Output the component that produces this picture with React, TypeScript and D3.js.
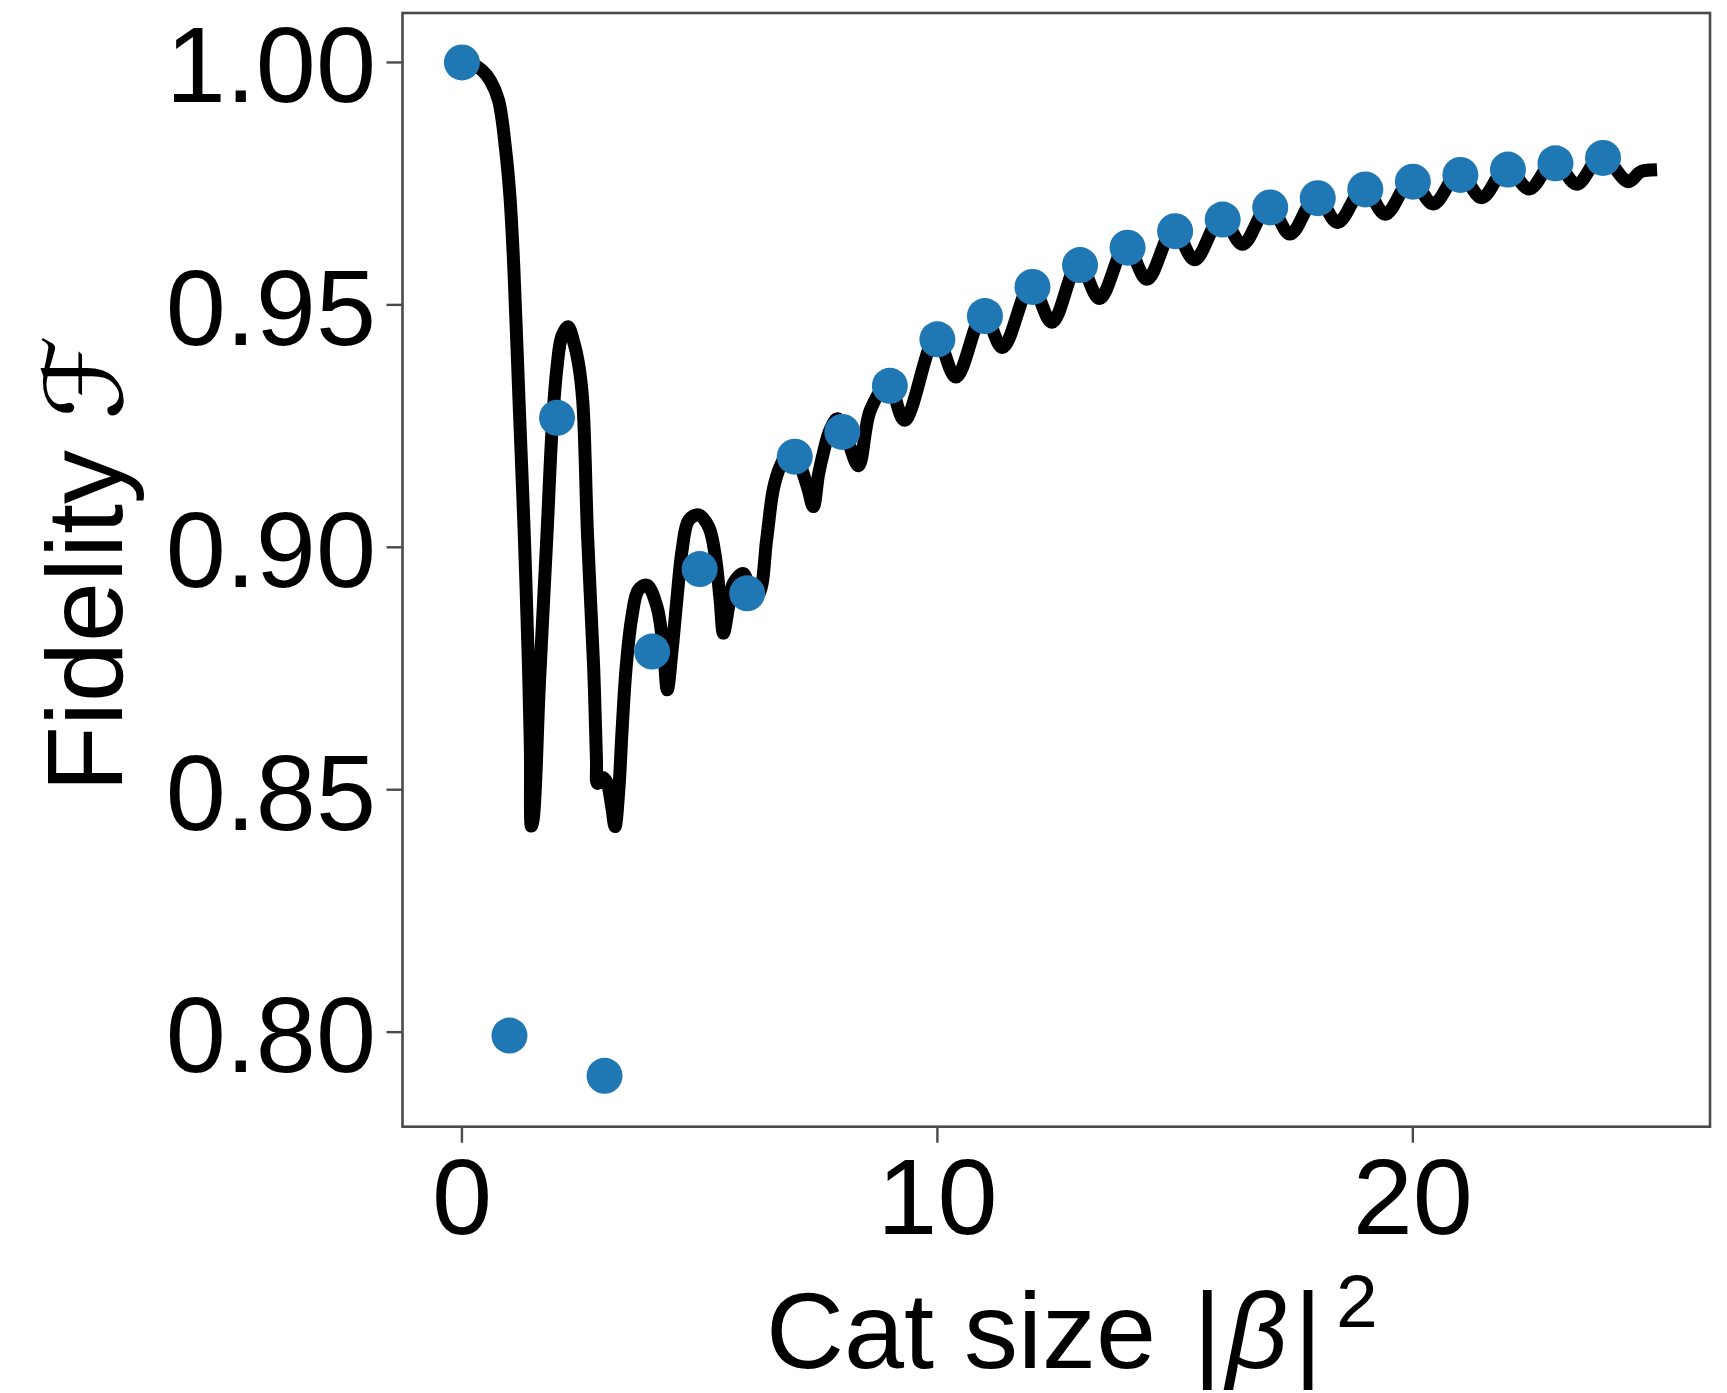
import React from "react";
import * as d3 from "d3";

// ---- data ----
const dotX = [0, 1, 2, 3, 4, 5, 6, 7, 8, 9, 10, 11, 12, 13, 14, 15, 16, 17, 18, 19, 20, 21, 22, 23, 24];
const dotY = [
  1.0, 0.7993, 0.9267, 0.791, 0.8785, 0.8955, 0.8905, 0.9187, 0.9238, 0.9333, 0.9429, 0.9477, 0.9537,
  0.9582, 0.9618, 0.9652, 0.9676, 0.9701, 0.972, 0.9738, 0.9754, 0.9768, 0.9779, 0.9792, 0.9803,
];

const lineX = [
  0.0, 0.2, 0.42, 0.6, 0.77, 0.92, 1.01, 1.09, 1.2, 1.31, 1.4, 1.44, 1.46, 1.5, 1.63, 1.79, 1.9, 2.0, 2.1,
  2.23, 2.36, 2.45, 2.54, 2.64, 2.77, 2.83, 2.85, 2.96, 3.05, 3.15, 3.22, 3.3, 3.365, 3.455, 3.575, 3.71,
  3.89, 4.1, 4.24, 4.32, 4.42, 4.52, 4.63, 4.77, 4.976, 5.19, 5.33, 5.43, 5.5, 5.61, 5.71, 5.92, 6.1, 6.25,
  6.41, 6.55, 6.69, 6.85, 6.98, 7.15, 7.28, 7.39, 7.5, 7.6, 7.74, 7.9, 8.1, 8.34, 8.59, 8.97, 9.31, 9.97, 10.39,
  10.97, 11.37, 11.97, 12.41, 12.97, 13.41, 13.97, 14.41, 14.97, 15.41, 15.97, 16.42, 16.97, 17.42, 17.97,
  18.42, 18.97, 19.42, 19.97, 20.43, 20.97, 21.45, 21.97, 22.45, 22.97, 23.45, 23.97, 24.53, 24.78, 25.0,
];
const lineY = [
  1.0, 0.9997, 0.9984, 0.9962, 0.9922, 0.9819, 0.9723, 0.958, 0.9304, 0.9029, 0.8754, 0.858, 0.8425, 0.844,
  0.872, 0.9029, 0.925, 0.9372, 0.9435, 0.9455, 0.942, 0.938, 0.9304, 0.9029, 0.8754, 0.856, 0.8513, 0.8525,
  0.8515, 0.8465, 0.8424, 0.85, 0.8617, 0.8754, 0.8857, 0.8912, 0.8922, 0.8878, 0.8788, 0.8706, 0.8788,
  0.8891, 0.8994, 0.9056, 0.9067, 0.9042, 0.8981, 0.8891, 0.8823, 0.8878, 0.8926, 0.8946, 0.8895, 0.8905,
  0.9017, 0.912, 0.9166, 0.9195, 0.92, 0.916, 0.912, 0.9084, 0.915, 0.9194, 0.9242, 0.9265, 0.9225, 0.9168,
  0.9283, 0.9338, 0.9262, 0.9433, 0.9351, 0.9482, 0.9412, 0.9541, 0.9464, 0.9586, 0.9513, 0.9622, 0.9553, 0.9656,
  0.9593, 0.968, 0.9625, 0.9705, 0.9646, 0.9724, 0.967, 0.9742, 0.9687, 0.9758, 0.9708, 0.9772, 0.9721,
  0.9783, 0.9739, 0.9796, 0.9749, 0.9807, 0.9754, 0.9774, 0.9778,
];

const xTicks = [0, 10, 20];
const yTicks = [0.8, 0.85, 0.9, 0.95, 1.0];
const xDomain = [-1.25, 26.25];
const yDomain = [0.7805, 1.0102];

// ---- layout ----
const W = 1727;
const H = 1393;
const left = 402.5;
const right = 1710;
const top = 13;
const bottom = 1126.7;
const FONT = "'Liberation Sans', Arial, Helvetica, sans-serif";
const FS = 108;
const SPINE = "#4a4a4a";

export default function App() {
  const x = d3.scaleLinear().domain(xDomain).range([left, right]);
  const y = d3.scaleLinear().domain(yDomain).range([bottom, top]);

  const linePts = lineX.map((v, i) => [v, lineY[i]] as [number, number]);
  const path = d3
    .line<[number, number]>()
    .x((d) => x(d[0]))
    .y((d) => y(d[1]))
    .curve(d3.curveCatmullRom.alpha(0.5))(linePts);

  return (
    <div style={{ position: "absolute", left: 0, top: 0, background: "#fff" }}>
      <svg width={W} height={H} viewBox={`0 0 ${W} ${H}`} style={{ display: "block" }}>
        <rect x={0} y={0} width={W} height={H} fill="#fff" />
        <path
          d={path || ""}
          fill="none"
          stroke="#000"
          strokeWidth={13}
          strokeLinejoin="round"
          strokeLinecap="square"
        />
        {dotX.map((v, i) => (
          <circle key={i} cx={x(v)} cy={y(dotY[i])} r={18} fill="#1f77b4" />
        ))}
        {/* frame */}
        <rect x={left} y={top} width={right - left} height={bottom - top} fill="none" stroke={SPINE} strokeWidth={2.6} />
        {/* y ticks */}
        {yTicks.map((t) => (
          <g key={t}>
            <line x1={left - 16} x2={left} y1={y(t)} y2={y(t)} stroke={SPINE} strokeWidth={2.4} />
            <text x={376} y={y(t) + 40} textAnchor="end" fontFamily={FONT} fontSize={FS} fill="#000">
              {t.toFixed(2)}
            </text>
          </g>
        ))}
        {/* x ticks */}
        {xTicks.map((t) => (
          <g key={t}>
            <line x1={x(t)} x2={x(t)} y1={bottom} y2={bottom + 16} stroke={SPINE} strokeWidth={2.4} />
            <text x={x(t)} y={1234} textAnchor="middle" fontFamily={FONT} fontSize={FS} fill="#000">
              {t}
            </text>
          </g>
        ))}
        {/* x label */}
        <text x={766} y={1368} fontFamily={FONT} fontSize={FS} fill="#000">
          <tspan>Cat size </tspan>
          <tspan dx={7}>|</tspan>
          <tspan dx={5} fontStyle="italic">β</tspan>
          <tspan dx={6}>|</tspan>
          <tspan dx={14} dy={-41} fontSize={75}>2</tspan>
        </text>
        {/* y label */}
        <text transform="translate(122, 792) rotate(-90)" fontFamily={FONT} fontSize={FS} fill="#000">
          <tspan>Fidelity </tspan>
          <tspan fontFamily="'DejaVu Serif', 'DejaVu Sans', serif" fontStyle="italic">ℱ</tspan>
        </text>
      </svg>
    </div>
  );
}
